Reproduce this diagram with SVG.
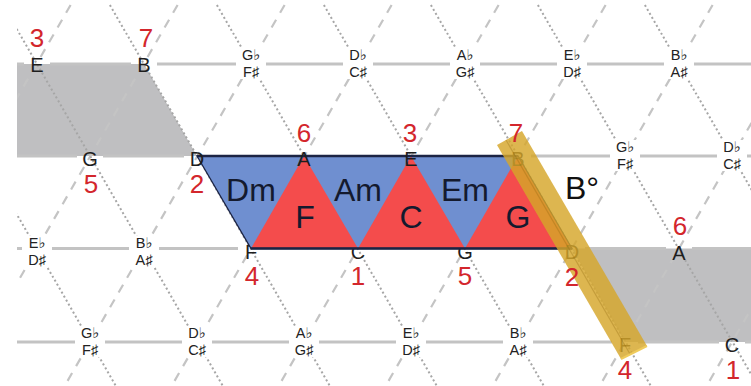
<svg xmlns="http://www.w3.org/2000/svg" width="751" height="386" viewBox="0 0 751 386">
<defs>
<clipPath id="clip"><rect x="17" y="4" width="734" height="382"/></clipPath>
</defs>
<style>
text{font-family:"Liberation Sans","DejaVu Sans",sans-serif;}
.h{stroke:#c3c3c3;stroke-width:3;fill:none}
.ds{stroke:#c4c4c4;stroke-width:2.2;stroke-dasharray:9 8;fill:none}
.dt{stroke:#a6a6a6;stroke-width:2;stroke-dasharray:2 2.6;fill:none}
.nat{font-size:20px;fill:#1e1e1e;text-anchor:middle}
.acc{font-size:14.5px;fill:#222;text-anchor:middle}
.num{font-size:26px;fill:#d3262c;text-anchor:middle}
.chord{font-size:32px;fill:#141a2e;text-anchor:middle}
.bg{fill:#fff}
.gray{fill:#bfbfc1}
.blue{fill:#6f8fd0}
.red{fill:#f44c4c}
.edge{stroke:#1c2444;stroke-width:2.5;fill:none}
</style>
<rect width="751" height="386" fill="#fff"/>
<g id="shaded-regions">
<polygon class="gray" points="17,64 144,64 197,156 17,156"/>
<polygon class="gray" points="572,248.5 751,248.5 751,342 625,342"/>
</g>
<g id="connectors" clip-path="url(#clip)">
<path class="h" d="M17 64H24M50 64H131M157 64H236M266 64H343M373 64H450M480 64H557M587 64H664M694 64H751"/>
<path class="h" d="M17 156H77M103 156H184M531 156H610M640 156H717M747 156H751"/>
<path class="h" d="M17 248.5H22M52 248.5H129M159 248.5H238M585 248.5H666M692 248.5H751"/>
<path class="h" d="M17 342H75M105 342H182M212 342H289M319 342H396M426 342H503M533 342H612M638 342H719M745 342H751"/>
<path class="ds" d="M70.6 5L-149.4 386M177.6 5L-42.4 386M284.6 5L64.6 386M391.6 5L171.6 386M498.6 5L278.6 386M605.6 5L385.6 386M712.6 5L492.6 386M819.6 5L599.6 386M926.6 5L706.6 386"/>
<path class="dt" d="M-104.1 5L115.9 386M2.9 5L222.9 386M109.9 5L329.9 386M216.9 5L436.9 386M323.9 5L543.9 386M430.9 5L650.9 386M537.9 5L757.9 386M644.9 5L864.9 386"/>
</g>
<g id="row1">
<g id="n-E-top"><text class="nat" x="37" y="72">E</text></g>
<g id="n-B-top"><text class="nat" x="144" y="72">B</text></g>
<g id="n-Gb-r1"><rect class="bg" x="238" y="48" width="26" height="31"/><text class="acc" x="251" y="60">G♭<tspan x="251" dy="16.5">F♯</tspan></text></g>
<g id="n-Db-r1"><rect class="bg" x="345" y="48" width="26" height="31"/><text class="acc" x="358" y="60">D♭<tspan x="358" dy="16.5">C♯</tspan></text></g>
<g id="n-Ab-r1"><rect class="bg" x="452" y="48" width="26" height="31"/><text class="acc" x="465" y="60">A♭<tspan x="465" dy="16.5">G♯</tspan></text></g>
<g id="n-Eb-r1"><rect class="bg" x="559" y="48" width="26" height="31"/><text class="acc" x="572" y="60">E♭<tspan x="572" dy="16.5">D♯</tspan></text></g>
<g id="n-Bb-r1"><rect class="bg" x="666" y="48" width="26" height="31"/><text class="acc" x="679" y="60">B♭<tspan x="679" dy="16.5">A♯</tspan></text></g>
</g>
<g id="row2-acc">
<g id="n-Gb-r2"><rect class="bg" x="612" y="140" width="26" height="31"/><text class="acc" x="625" y="152">G♭<tspan x="625" dy="16.5">F♯</tspan></text></g>
<g id="n-Db-r2"><rect class="bg" x="719" y="140" width="26" height="31"/><text class="acc" x="732" y="152">D♭<tspan x="732" dy="16.5">C♯</tspan></text></g>
</g>
<g id="row3-acc">
<g id="n-Eb-r3"><rect class="bg" x="24" y="236" width="26" height="31"/><text class="acc" x="37" y="248">E♭<tspan x="37" dy="16.5">D♯</tspan></text></g>
<g id="n-Bb-r3"><rect class="bg" x="131" y="236" width="26" height="31"/><text class="acc" x="144" y="248">B♭<tspan x="144" dy="16.5">A♯</tspan></text></g>
</g>
<g id="row4">
<g id="n-Gb-r4"><rect class="bg" x="77" y="326" width="26" height="31"/><text class="acc" x="90" y="338">G♭<tspan x="90" dy="16.5">F♯</tspan></text></g>
<g id="n-Db-r4"><rect class="bg" x="184" y="326" width="26" height="31"/><text class="acc" x="197" y="338">D♭<tspan x="197" dy="16.5">C♯</tspan></text></g>
<g id="n-Ab-r4"><rect class="bg" x="291" y="326" width="26" height="31"/><text class="acc" x="304" y="338">A♭<tspan x="304" dy="16.5">G♯</tspan></text></g>
<g id="n-Eb-r4"><rect class="bg" x="398" y="326" width="26" height="31"/><text class="acc" x="411" y="338">E♭<tspan x="411" dy="16.5">D♯</tspan></text></g>
<g id="n-Bb-r4"><rect class="bg" x="505" y="326" width="26" height="31"/><text class="acc" x="518" y="338">B♭<tspan x="518" dy="16.5">A♯</tspan></text></g>
<g id="n-F-r4"><text class="nat" x="625" y="352">F</text></g>
<g id="n-C-r4"><text class="nat" x="732" y="352">C</text></g>
</g>
<g id="row3-under">
<g id="n-F-r3"><text class="nat" x="251" y="259">F</text></g>
<g id="n-C-r3"><text class="nat" x="358" y="259">C</text></g>
<g id="n-G-r3"><text class="nat" x="465" y="259">G</text></g>
</g>
<g id="chords">
<polygon class="blue" points="197,156 518,156 572,248.5 251,248.5"/>
<g id="chord-Dm"><polygon class="blue" points="197,156 304,156 251,248.5"/><text class="chord" x="251" y="201">Dm</text></g>
<g id="chord-Am"><polygon class="blue" points="304,156 411,156 358,248.5"/><text class="chord" x="358" y="201">Am</text></g>
<g id="chord-Em"><polygon class="blue" points="411,156 518,156 465,248.5"/><text class="chord" x="465" y="201">Em</text></g>
<g id="chord-F"><polygon class="red" points="251,248.5 304,156 358,248.5"/><text class="chord" x="305" y="228">F</text></g>
<g id="chord-C"><polygon class="red" points="358,248.5 411,156 465,248.5"/><text class="chord" x="411" y="228">C</text></g>
<g id="chord-G"><polygon class="red" points="465,248.5 518,156 572,248.5"/><text class="chord" x="518" y="228">G</text></g>
<polygon points="197,156 518,156 572,248.5 251,248.5" fill="none" stroke="#1c2444" stroke-width="1.3"/>
<path class="edge" d="M197 156H518M251 248.5H572"/>
<g id="chord-Bdim"><text class="chord" x="565" y="199" style="text-anchor:start;fill:#111">B°</text></g>
</g>
<g id="row2">
<g id="n-G-r2"><text class="nat" x="90" y="166">G</text></g>
<g id="n-D-r2"><text class="nat" x="197" y="166">D</text></g>
<g id="n-A-r2"><text class="nat" x="304" y="166">A</text></g>
<g id="n-E-r2"><text class="nat" x="411" y="166">E</text></g>
<g id="n-B-r2"><text class="nat" x="518" y="166">B</text></g>
</g>
<g id="row3">
<g id="n-D-r3"><text class="nat" x="572" y="259">D</text></g>
<g id="n-A-r3"><text class="nat" x="679" y="260">A</text></g>
</g>
<g id="dim-bar">
<polygon points="497,145 522,131 647,346 621,359" fill="#d5a62a" fill-opacity="0.82"/>
<path d="M506 140L630 354" stroke="#8c640a" stroke-opacity="0.3" stroke-width="1.2" fill="none"/>
<path d="M621 359L647 346" stroke="#efcb5c" stroke-width="2" fill="none"/>
</g>
<g id="degrees">
<text class="num" x="37" y="47">3</text>
<text class="num" x="146" y="47">7</text>
<text class="num" x="91" y="193">5</text>
<text class="num" x="197" y="193">2</text>
<text class="num" x="304" y="142">6</text>
<text class="num" x="410" y="142">3</text>
<text class="num" x="516" y="142">7</text>
<text class="num" x="252" y="285">4</text>
<text class="num" x="358" y="285">1</text>
<text class="num" x="465" y="285">5</text>
<text class="num" x="572" y="286">2</text>
<text class="num" x="680" y="235">6</text>
<text class="num" x="625" y="379">4</text>
<text class="num" x="733" y="379">1</text>
</g>
</svg>
